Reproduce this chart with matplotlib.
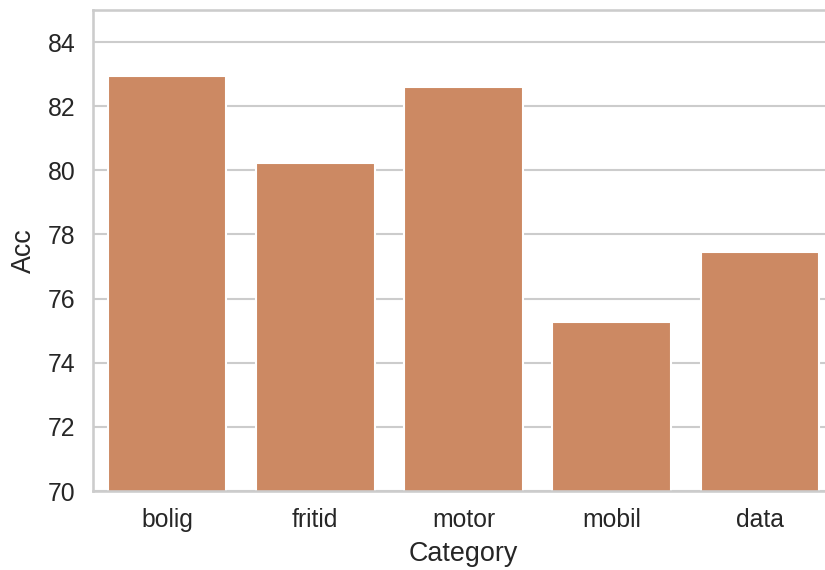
import matplotlib
matplotlib.use("Agg")
import matplotlib.pyplot as plt
import seaborn as sns
import pandas as pd

categories = ["bolig", "fritid", "motor", "mobil", "data"]
acc = [82.93, 80.23, 82.59, 75.28, 77.46]

sns.set_theme(style="whitegrid", context="talk")
plt.rcParams["font.family"] = ["Liberation Sans", "DejaVu Sans"]
plt.rcParams["xtick.labelsize"] = 17.8
plt.rcParams["ytick.labelsize"] = 17.8
plt.rcParams["axes.labelsize"] = 19.4

df = pd.DataFrame({"Category": categories, "Acc": acc})

fig = plt.figure(figsize=(8.25, 5.7), dpi=100)
ax = fig.add_axes([93 / 825, 79 / 570, 741 / 825, 481 / 570])
sns.barplot(data=df, x="Category", y="Acc", color="#dd8452", saturation=0.75, ax=ax)
ax.set_ylim(70, 85)
ax.set_xlim(-0.5, 4.5)
ax.set_yticks(range(70, 85, 2))
ax.xaxis.labelpad = 6
ax.yaxis.labelpad = 8

fig.savefig("out.png", dpi=100)
